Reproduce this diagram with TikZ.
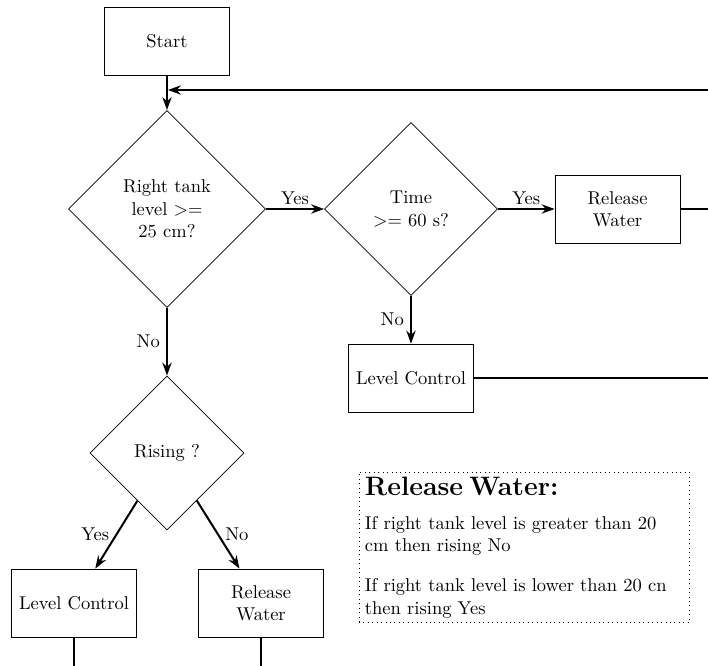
\documentclass[tikz,border=0pt]{standalone}
\usetikzlibrary{shapes.geometric,arrows.meta}
\begin{document}
\begin{tikzpicture}[x=0.54pt,y=-0.54pt,
  box/.style={draw, rectangle, minimum width=67.5pt, minimum height=36.7pt, align=center, inner sep=2pt},
  dec/.style={draw, diamond, align=center, inner sep=0pt},
  conn/.style={line width=1.08pt},
  arr/.style={conn, -{Stealth[length=7pt,width=5pt]}},
  note/.style={draw, dotted, rectangle, anchor=north west, align=left, text width=172pt, inner xsep=3.3pt, inner ysep=2.3pt}
]
\useasboundingbox (0,0) rectangle (708,666);
\node[box] (start) at (167,41) {Start};
\node[dec, minimum width=106.4pt, minimum height=106.4pt] (d1) at (167,209) {Right tank\\level >=\\25 cm?};
\node[dec, minimum width=93.4pt, minimum height=93.4pt] (d2) at (411,209) {Time\\>= 60 s?};
\node[box] (rw1) at (617.5,209) {Release\\Water};
\node[box] (lc1) at (411,378) {Level Control};
\node[dec, minimum width=83.2pt, minimum height=83.2pt] (d3) at (167,453) {Rising ?};
\node[box] (lc2) at (74,603) {Level Control};
\node[box] (rw2) at (261,603) {Release\\Water};
\node[note] (nt) at (358.5,472) {\vspace*{2.7pt}{\Large\bfseries Release Water:}\\[4pt]
If right tank level is greater than 20\\
cm then rising No\\[9.5pt]
If right tank level is lower than 20 cn\\
then rising Yes};

\coordinate (r0) at (708,90);
\coordinate (j0) at (167,90);
\coordinate (r1) at (708,209);
\coordinate (r2) at (708,378);
\coordinate (b1) at (74,666);
\coordinate (b2) at (261,666);

\draw[arr] (start) -- (d1);
\draw[arr, shorten >=0.5pt] (r0) -- (j0);
\draw[arr] (d1) -- node[above, inner sep=2pt] {Yes} (d2);
\draw[arr] (d2) -- node[above, inner sep=2pt] {Yes} (rw1);
\draw[arr] (d2) -- node[left] {No} (lc1);
\draw[arr] (d1) -- node[left] {No} (d3);
\draw[arr] (d3) -- node[left] {Yes} (lc2);
\draw[arr] (d3) -- node[right] {No} (rw2);
\draw[conn] (rw1) -- (r1);
\draw[conn] (lc1) -- (r2);
\draw[conn] (lc2) -- (b1);
\draw[conn] (rw2) -- (b2);
\end{tikzpicture}
\end{document}
